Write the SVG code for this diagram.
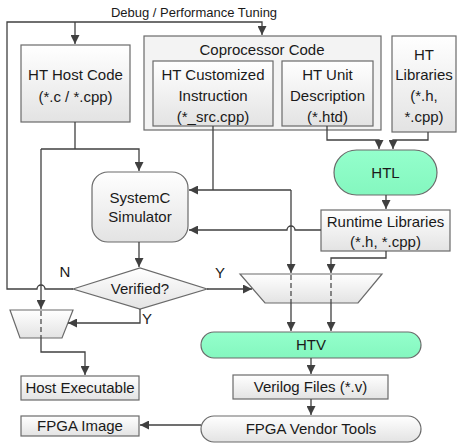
<svg xmlns="http://www.w3.org/2000/svg" width="461" height="444" viewBox="0 0 461 444">
  <defs>
    <linearGradient id="boxFill" x1="0" y1="0" x2="0" y2="1">
      <stop offset="0" stop-color="#ffffff"/>
      <stop offset="1" stop-color="#e3e3e3"/>
    </linearGradient>
    <linearGradient id="greenFill" x1="0" y1="0" x2="0" y2="1">
      <stop offset="0" stop-color="#94ffcc"/>
      <stop offset="1" stop-color="#84f7bf"/>
    </linearGradient>
    <marker id="arrow" markerUnits="userSpaceOnUse" markerWidth="9" markerHeight="9" viewBox="0 0 10 10" refX="10" refY="5" orient="auto">
      <path d="M0,0 L10,5 L0,10 z" fill="#404040"/>
    </marker>
  </defs>
  <style>
    .box { fill: url(#boxFill); stroke: #6a6a6a; stroke-width: 1.2; }
    .outer { fill: #f3f3f3; stroke: #6a6a6a; stroke-width: 1.2; }
    .tool { fill: url(#greenFill); stroke: #6a6a6a; stroke-width: 1.2; }
    .term { fill: url(#boxFill); stroke: #6a6a6a; stroke-width: 1.2; }
    text { font-family: "Liberation Sans", Arial, sans-serif; font-size: 15px; fill: #1a1a1a; text-anchor: middle; }
    .small { font-size: 13px; }
    .wire { fill: none; stroke: #404040; stroke-width: 1.3; }
    .arr { marker-end: url(#arrow); }
    .dash { fill: none; stroke: #404040; stroke-width: 1.2; stroke-dasharray: 5 3; }
  </style>

  <text class="small" x="194" y="17">Debug / Performance Tuning</text>

  <!-- host code -->
  <g id="host-code">
    <rect class="box" x="21" y="45" width="109" height="77"/>
    <text x="75.5" y="80">HT Host Code</text>
    <text x="75.5" y="102">(*.c / *.cpp)</text>
  </g>

  <!-- coprocessor code container with its two inner sources -->
  <g id="coprocessor-code">
    <rect class="outer" x="144" y="36" width="237" height="94"/>
    <text x="262" y="55">Coprocessor Code</text>
  </g>
  <g id="custom-instruction">
    <rect class="box" x="153" y="61" width="120" height="65"/>
    <text x="213" y="80">HT Customized</text>
    <text x="213" y="101">Instruction</text>
    <text x="213" y="122">(*_src.cpp)</text>
  </g>
  <g id="unit-description">
    <rect class="box" x="282" y="61" width="91" height="65"/>
    <text x="327.5" y="80">HT Unit</text>
    <text x="327.5" y="101">Description</text>
    <text x="327.5" y="122">(*.htd)</text>
  </g>
  <g id="ht-libraries">
    <rect class="box" x="392" y="36" width="64" height="96"/>
    <text x="424" y="60">HT</text>
    <text x="424" y="80">Libraries</text>
    <text x="424" y="101">(*.h,</text>
    <text x="424" y="122">*.cpp)</text>
  </g>

  <g id="htl">
    <rect class="tool" x="334" y="150" width="103" height="45" rx="22.5"/>
    <text x="385.5" y="178">HTL</text>
  </g>
  <g id="runtime-libraries">
    <rect class="box" x="321" y="210" width="129" height="41"/>
    <text x="385.5" y="227">Runtime Libraries</text>
    <text x="385.5" y="247">(*.h, *.cpp)</text>
  </g>

  <g id="systemc-simulator">
    <rect class="box" x="92" y="172" width="96" height="70" rx="16"/>
    <text x="140" y="203">SystemC</text>
    <text x="140" y="222">Simulator</text>
  </g>

  <g id="verified">
    <polygon class="box" points="73,289 140,268 207,289 140,309"/>
    <text x="140" y="294">Verified?</text>
  </g>

  <g id="host-merge">
    <polygon class="box" points="10,310 73,310 62,338 20,338"/>
  </g>
  <g id="fpga-merge">
    <polygon class="box" points="240,274 382,274 358,303 265,303"/>
  </g>

  <g id="htv">
    <rect class="tool" x="201" y="332" width="220" height="26" rx="13"/>
    <text x="311" y="350">HTV</text>
  </g>
  <g id="verilog-files">
    <rect class="box" x="233" y="375" width="155" height="24"/>
    <text x="310.5" y="392">Verilog Files (*.v)</text>
  </g>
  <g id="vendor-tools">
    <rect class="term" x="201" y="416" width="220" height="26" rx="13"/>
    <text x="311" y="434">FPGA Vendor Tools</text>
  </g>
  <g id="host-executable">
    <rect class="box" x="21" y="376" width="118" height="24"/>
    <text x="80" y="393">Host Executable</text>
  </g>
  <g id="fpga-image">
    <rect class="box" x="21" y="416" width="118" height="20"/>
    <text x="80" y="431">FPGA Image</text>
  </g>

  <g id="connectors">
    <!-- "N" feedback loop back to the sources -->
    <path class="wire arr" d="M73,289 L45,289 A4,4 0 0 0 37,289 L7,289 L7,22 L262,22 L262,35"/>
    <path class="wire arr" d="M75,22 L75,44"/>
    <!-- host code to simulator and host merge -->
    <path class="wire" d="M75,122 L75,149"/>
    <path class="wire arr" d="M41,149 L139,149 L139,171"/>
    <path class="wire arr" d="M41,149 L41,309"/>
    <path class="dash" d="M41,311 L41,338"/>
    <!-- simulator to decision -->
    <path class="wire arr" d="M139,242 L139,267"/>
    <!-- decision outputs -->
    <path class="wire arr" d="M207,289 L252,289"/>
    <path class="wire arr" d="M140,309 L140,323 L68,323"/>
    <!-- customized instruction to simulator and FPGA merge -->
    <path class="wire" d="M213,126 L213,190"/>
    <path class="wire arr" d="M291,190 L189,190"/>
    <path class="wire arr" d="M291,190 L291,273"/>
    <!-- runtime libraries to simulator and FPGA merge -->
    <path class="wire arr" d="M321,230 L295,230 A4,4 0 0 0 287,230 L189,230"/>
    <path class="wire arr" d="M386,251 L386,258 L331,258 L331,273"/>
    <!-- pass through the FPGA merge into HTV -->
    <path class="dash" d="M291,275 L291,303"/>
    <path class="dash" d="M331,275 L331,303"/>
    <path class="wire arr" d="M291,303 L291,331"/>
    <path class="wire arr" d="M331,303 L331,331"/>
    <!-- sources into HTL -->
    <path class="wire arr" d="M327,126 L327,140 L379,140 L379,149"/>
    <path class="wire arr" d="M428,132 L428,140 L393,140 L393,149"/>
    <path class="wire arr" d="M386,195 L386,209"/>
    <!-- host merge to executable -->
    <path class="wire arr" d="M41,338 L41,352 L85,352 L85,375"/>
    <!-- HTV chain -->
    <path class="wire arr" d="M311,358 L311,374"/>
    <path class="wire arr" d="M311,399 L311,415"/>
    <path class="wire arr" d="M201,425 L140,425"/>
  </g>

  <g id="labels">
    <text x="65" y="277">N</text>
    <text x="220" y="278">Y</text>
    <text x="147" y="324">Y</text>
  </g>
</svg>
